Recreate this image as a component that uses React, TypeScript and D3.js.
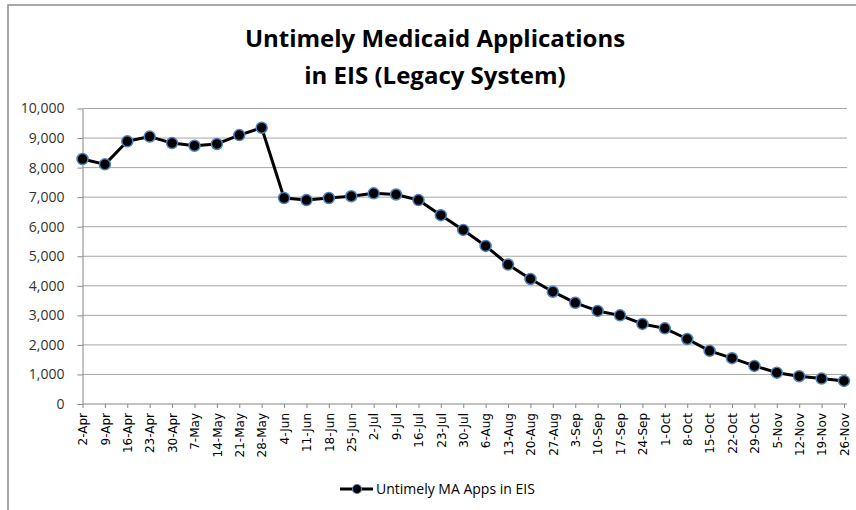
import { useEffect, useRef } from 'react';
import * as d3 from 'd3';

const weeks = [
  '2-Apr', '9-Apr', '16-Apr', '23-Apr', '30-Apr', '7-May', '14-May', '21-May', '28-May',
  '4-Jun', '11-Jun', '18-Jun', '25-Jun', '2-Jul', '9-Jul', '16-Jul', '23-Jul', '30-Jul',
  '6-Aug', '13-Aug', '20-Aug', '27-Aug', '3-Sep', '10-Sep', '17-Sep', '24-Sep',
  '1-Oct', '8-Oct', '15-Oct', '22-Oct', '29-Oct', '5-Nov', '12-Nov', '19-Nov', '26-Nov',
];

const untimelyApps = [
  8290, 8110, 8890, 9050, 8830, 8740, 8800, 9100, 9350,
  6970, 6900, 6970, 7030, 7130, 7090, 6900, 6390, 5890,
  5350, 4720, 4230, 3800, 3425, 3150, 3000, 2710,
  2560, 2200, 1800, 1550, 1290, 1060, 940, 860, 780,
];

const yTicks = [0, 1000, 2000, 3000, 4000, 5000, 6000, 7000, 8000, 9000, 10000];

const titleLines = ['Untimely Medicaid Applications', 'in EIS (Legacy System)'];
const seriesName = 'Untimely MA Apps in EIS';

const W = 856;
const H = 510;

export default function App() {
  const svgRef = useRef<SVGSVGElement>(null);

  useEffect(() => {
    if (!svgRef.current) return;
    const svg = d3.select(svgRef.current);
    svg.selectAll('*').remove();

    const margin = { top: 108.5, right: 12, bottom: 106, left: 82.5 };

    // chart frame
    svg.append('rect')
      .attr('x', 8).attr('y', 5)
      .attr('width', W).attr('height', H + 10)
      .attr('fill', 'white')
      .attr('stroke', '#8c8c8c')
      .attr('stroke-width', 1.5);

    const x = d3.scalePoint<string>()
      .domain(weeks)
      .range([margin.left, W - margin.right]);

    const y = d3.scaleLinear()
      .domain([0, 10000])
      .range([H - margin.bottom, margin.top]);

    // title
    svg.append('g')
      .selectAll('text')
      .data(titleLines)
      .join('text')
      .attr('x', 435)
      .attr('y', (_, i) => 47 + i * 37)
      .attr('text-anchor', 'middle')
      .attr('font-family', '"Open Sans", sans-serif')
      .attr('font-weight', 700)
      .attr('font-size', 24)
      .attr('fill', '#000')
      .text(d => d);

    // gridlines
    svg.append('g')
      .selectAll('line')
      .data(yTicks.filter(t => t > 0))
      .join('line')
      .attr('x1', margin.left)
      .attr('x2', W - 9)
      .attr('y1', d => y(d))
      .attr('y2', d => y(d))
      .attr('stroke', '#a6a6a6')
      .attr('stroke-width', 1);

    // y axis
    const yAxis = svg.append('g')
      .attr('transform', `translate(${margin.left},0)`)
      .call(d3.axisLeft(y).tickValues(yTicks).tickSize(5).tickSizeOuter(0).tickFormat(d3.format(',')));
    yAxis.select('.domain').attr('stroke', '#868686');
    yAxis.selectAll('.tick line').attr('stroke', '#868686');
    yAxis.selectAll('.tick text')
      .attr('x', -18)
      .attr('font-family', '"Open Sans", sans-serif')
      .attr('font-size', 14)
      .attr('fill', '#333');

    // x axis
    const xAxis = svg.append('g')
      .attr('transform', `translate(0,${y(0)})`)
      .call(d3.axisBottom(x).tickSize(4).tickSizeOuter(0));
    xAxis.select('.domain').attr('stroke', '#868686').attr('d', `M${margin.left},0H${W - 9}`);
    xAxis.selectAll('.tick line').attr('stroke', '#868686');
    xAxis.selectAll('.tick text')
      .attr('transform', 'rotate(-90)')
      .attr('x', -9)
      .attr('y', 0)
      .attr('dy', '0.35em')
      .attr('text-anchor', 'end')
      .attr('font-family', '"DejaVu Sans", sans-serif')
      .attr('font-size', 12)
      .attr('fill', '#000');

    // line
    const line = d3.line<number>()
      .x((_, i) => x(weeks[i]) ?? 0)
      .y(d => y(d));

    svg.append('path')
      .datum(untimelyApps)
      .attr('fill', 'none')
      .attr('stroke', '#000')
      .attr('stroke-width', 3)
      .attr('stroke-linejoin', 'round')
      .attr('d', line);

    svg.append('g')
      .selectAll('circle')
      .data(untimelyApps)
      .join('circle')
      .attr('cx', (_, i) => x(weeks[i]) ?? 0)
      .attr('cy', d => y(d))
      .attr('r', 5.5)
      .attr('fill', '#000')
      .attr('stroke', '#4f81bd')
      .attr('stroke-width', 1.5);

    // legend
    const legend = svg.append('g').attr('transform', 'translate(340,489)');
    legend.append('line')
      .attr('x1', 0).attr('x2', 33)
      .attr('y1', 0).attr('y2', 0)
      .attr('stroke', '#000')
      .attr('stroke-width', 3);
    legend.append('circle')
      .attr('cx', 17).attr('cy', 0).attr('r', 4.5)
      .attr('fill', '#000')
      .attr('stroke', '#4f81bd')
      .attr('stroke-width', 1.2);
    legend.append('text')
      .attr('x', 36)
      .attr('y', 0)
      .attr('dy', '0.35em')
      .attr('font-family', '"Open Sans", sans-serif')
      .attr('font-size', 14)
      .attr('fill', '#000')
      .text(seriesName);
  }, []);

  return (
    <svg
      ref={svgRef}
      width={W}
      height={H}
      style={{ position: 'absolute', left: 0, top: 0, background: 'white' }}
    />
  );
}
